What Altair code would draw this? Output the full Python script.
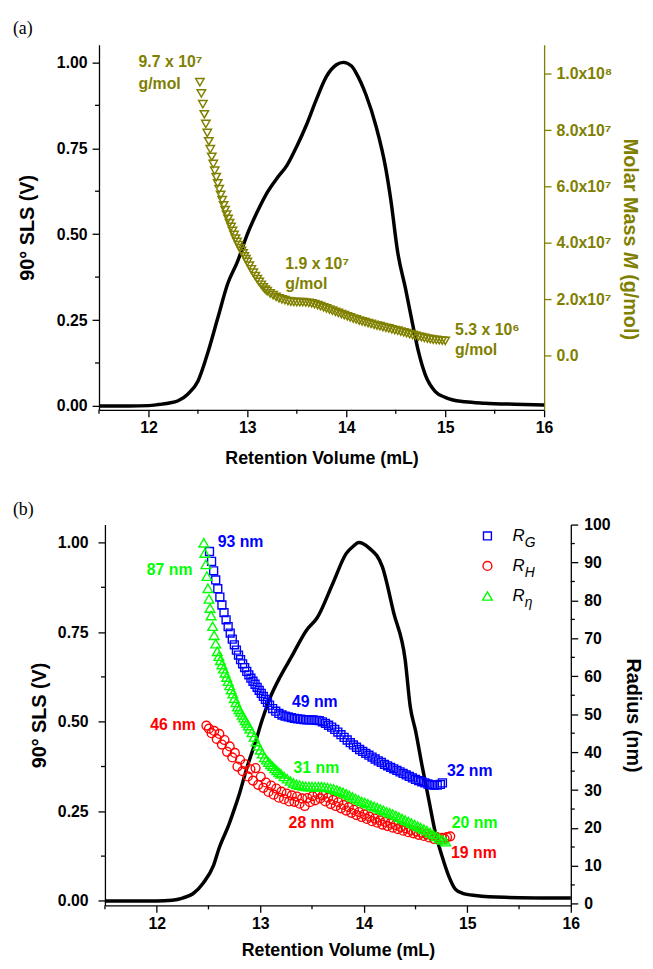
import altair as alt
import pandas as pd

FONT = "Liberation Sans"
SERIF = "Liberation Serif"
OLIVE = "#808000"
BLUE = "#0000FF"
RED = "#FF0000"
GREEN = "#00FF00"

# ---------------- axis tick values ----------------
x_ticks = [12, 13, 14, 15, 16]
x_minor = [11.5, 12.5, 13.5, 14.5, 15.5]
sls_ticks = [0.0, 0.25, 0.5, 0.75, 1.0]
sls_minor = [0.125, 0.375, 0.625, 0.875]
mm_ticks = [0, 20, 40, 60, 80, 100]          # molar mass, 10^6 g/mol
rad_ticks = [0, 10, 20, 30, 40, 50, 60, 70, 80, 90, 100]
rad_minor = [5, 15, 25, 35, 45, 55, 65, 75, 85, 95]

# ---------------- panel (a) data ----------------
sls_a_vol = [11.5, 11.8, 12.0, 12.1, 12.2, 12.3, 12.4, 12.5, 12.6, 12.7, 12.8, 12.9, 13.0,
             13.1, 13.2, 13.3, 13.4, 13.5, 13.6, 13.7, 13.8, 13.9, 13.97, 14.05, 14.1, 14.2,
             14.3, 14.4, 14.45, 14.52, 14.6, 14.68, 14.73, 14.8, 14.9, 15.0, 15.07, 15.2,
             15.4, 15.7, 16.0]
sls_a_sig = [0.0, 0.0, 0.001, 0.004, 0.008, 0.015, 0.035, 0.072, 0.155, 0.255, 0.355, 0.42,
             0.50, 0.565, 0.621, 0.663, 0.70, 0.756, 0.82, 0.894, 0.959, 0.993, 1.0, 0.99,
             0.969, 0.905, 0.815, 0.69, 0.60, 0.447, 0.34, 0.225, 0.158, 0.09, 0.042, 0.025,
             0.018, 0.012, 0.008, 0.005, 0.003]

mm_vol = [12.52, 12.535, 12.55, 12.565, 12.58, 12.595, 12.61, 12.625, 12.64, 12.655, 12.67,
          12.685, 12.70, 12.715, 12.73, 12.745, 12.76, 12.775, 12.79, 12.805, 12.82, 12.835,
          12.85, 12.865, 12.88, 12.895, 12.91, 12.925, 12.94, 12.955, 12.97, 12.985, 13.00,
          13.02, 13.04, 13.06, 13.08, 13.10, 13.12, 13.14, 13.16, 13.18, 13.20, 13.23, 13.26,
          13.29, 13.32, 13.35, 13.38, 13.41, 13.44, 13.47, 13.50, 13.53, 13.56, 13.59, 13.62,
          13.65, 13.68, 13.71, 13.74, 13.77, 13.80, 13.83, 13.86, 13.89, 13.92, 13.95, 13.98,
          14.01, 14.04, 14.07, 14.10, 14.13, 14.16, 14.19, 14.22, 14.25, 14.28, 14.31, 14.34,
          14.37, 14.40, 14.43, 14.46, 14.49, 14.52, 14.55, 14.58, 14.61, 14.64, 14.67, 14.70,
          14.73, 14.76, 14.79, 14.82, 14.85, 14.88, 14.91, 14.94, 14.97, 15.00]
mm_val = [97.0, 93.0, 89.2, 85.6, 82.2, 79.0, 76.0, 73.2, 70.5, 68.0, 65.6,
          63.3, 61.1, 59.0, 57.0, 55.1, 53.3, 51.6, 50.0, 48.5, 47.0, 45.6,
          44.2, 42.8, 41.5, 40.3, 39.2, 38.1, 37.1, 36.2, 35.2, 34.2, 33.2,
          31.9, 30.6, 29.4, 28.2, 27.1, 26.1, 25.1, 24.2, 23.4, 22.8, 22.0, 21.4,
          20.8, 20.3, 19.9, 19.6, 19.3, 19.1, 19.0, 18.9, 18.9, 18.9, 18.8, 18.7,
          18.5, 18.2, 17.9, 17.5, 17.1, 16.7, 16.3, 15.9, 15.5, 15.1, 14.7, 14.3,
          13.9, 13.5, 13.1, 12.8, 12.4, 12.1, 11.8, 11.5, 11.2, 10.9, 10.6, 10.4,
          10.1, 9.8, 9.6, 9.3, 9.0, 8.8, 8.5, 8.2, 7.9, 7.6, 7.3, 7.0,
          6.7, 6.5, 6.2, 6.0, 5.8, 5.6, 5.5, 5.4, 5.3, 5.2]

ann_a_vol = [11.9, 11.9, 13.383, 13.383, 15.1, 15.1]
ann_a_mm = [104.0, 96.3, 32.5, 25.4, 9.1, 2.0]
ann_a_txt = ["9.7 x 10\u2077", "g/mol", "1.9 x 10\u2077", "g/mol", "5.3 x 10\u2076", "g/mol"]

# ---------------- panel (b) data ----------------
sls_b_vol = [11.5, 12.0, 12.15, 12.25, 12.35, 12.45, 12.55, 12.6, 12.7, 12.75, 12.8, 12.876,
             12.95, 13.02, 13.1, 13.194, 13.3, 13.449, 13.55, 13.7, 13.83, 13.9, 13.95, 14.05,
             14.18, 14.29, 14.4, 14.45, 14.5, 14.564, 14.627, 14.691, 14.755, 14.82, 14.884,
             14.95, 15.08, 15.36, 16.0]
sls_b_sig = [0.0, 0.0, 0.002, 0.008, 0.02, 0.05, 0.10, 0.145, 0.215, 0.256, 0.30, 0.376,
             0.44, 0.506, 0.57, 0.626, 0.68, 0.756, 0.79, 0.885, 0.969, 0.99, 1.0, 0.985,
             0.932, 0.803, 0.673, 0.54, 0.475, 0.376, 0.284, 0.191, 0.126, 0.07, 0.033,
             0.022, 0.015, 0.01, 0.008]

rg_vol = [12.51, 12.53, 12.55, 12.57, 12.59, 12.61, 12.63, 12.65, 12.67, 12.69, 12.71, 12.73,
          12.75, 12.77, 12.79, 12.81, 12.83, 12.85, 12.87, 12.89, 12.91, 12.93, 12.95, 12.97,
          12.99, 13.01, 13.03, 13.05, 13.07, 13.09, 13.12, 13.15, 13.18, 13.21, 13.24, 13.27,
          13.30, 13.33, 13.36, 13.39, 13.42, 13.45, 13.48, 13.51, 13.54, 13.57, 13.60, 13.63,
          13.66, 13.69, 13.72, 13.75, 13.78, 13.81, 13.84, 13.87, 13.90, 13.93, 13.96, 13.99,
          14.02, 14.05, 14.08, 14.11, 14.14, 14.17, 14.20, 14.23, 14.26, 14.29, 14.32, 14.35,
          14.38, 14.41, 14.44, 14.47, 14.50, 14.53, 14.56, 14.59, 14.62, 14.65, 14.68, 14.71,
          14.74, 14.76]
rg_nm = [92.9, 90.3, 87.8, 85.4, 83.1, 80.9, 78.8, 76.8, 74.9, 73.1, 71.4, 69.8,
         68.3, 66.9, 65.6, 64.4, 63.3, 62.3, 61.3, 60.4, 59.5, 58.7, 57.9, 57.1,
         56.3, 55.5, 54.7, 53.9, 53.1, 52.4, 51.5, 50.8, 50.2, 49.8, 49.5, 49.3,
         49.1, 48.9, 48.8, 48.7, 48.6, 48.5, 48.5, 48.5, 48.4, 48.3, 48.0, 47.6,
         47.1, 46.6, 46.0, 45.3, 44.6, 43.9, 43.2, 42.5, 41.9, 41.3, 40.7, 40.2,
         39.7, 39.2, 38.7, 38.2, 37.7, 37.3, 36.8, 36.4, 36.0, 35.6, 35.2, 34.8,
         34.4, 34.0, 33.6, 33.2, 32.8, 32.5, 32.2, 31.9, 31.6, 31.4, 31.3, 31.3,
         31.5, 31.9]

rh_vol = [12.480, 12.505, 12.530, 12.555, 12.580, 12.605, 12.630, 12.655, 12.680, 12.705,
          12.730, 12.755, 12.780, 12.805, 12.830, 12.855, 12.880, 12.905, 12.930, 12.955,
          12.980, 13.005, 13.030, 13.055, 13.080, 13.105, 13.130, 13.155, 13.180, 13.205,
          13.230, 13.255, 13.280, 13.305, 13.330, 13.355, 13.380, 13.405, 13.430, 13.455,
          13.480, 13.505, 13.530, 13.555, 13.580, 13.605, 13.630, 13.655, 13.680, 13.705,
          13.730, 13.755, 13.780, 13.805, 13.830, 13.855, 13.880, 13.905, 13.930, 13.955,
          13.980, 14.005, 14.030, 14.055, 14.080, 14.105, 14.130, 14.155, 14.180, 14.205,
          14.230, 14.255, 14.280, 14.305, 14.330, 14.355, 14.380, 14.405, 14.430, 14.455,
          14.480, 14.505, 14.530, 14.555, 14.580, 14.605, 14.630, 14.655, 14.680, 14.705,
          14.730, 14.755, 14.780, 14.805, 14.835]
rh_nm = [47.0, 46.2, 45.0, 45.6, 43.5, 44.8, 42.0, 43.2, 40.1, 41.5,
         38.6, 39.8, 36.2, 38.0, 35.0, 36.8, 33.6, 35.5, 32.5, 35.8,
         31.4, 33.5, 30.6, 32.0, 29.5, 31.2, 28.8, 30.4, 28.0, 29.6,
         27.6, 29.1, 27.0, 28.6, 26.9, 28.3, 26.4, 27.8, 25.8, 27.9,
         26.8, 28.4, 27.3, 28.9, 27.8, 28.6, 27.0, 28.0, 26.3, 27.4,
         25.8, 26.8, 25.2, 26.1, 24.6, 25.5, 24.0, 24.8, 23.4, 24.2,
         22.9, 23.6, 22.4, 23.0, 21.8, 22.5, 21.4, 22.0, 20.9, 21.6,
         20.5, 21.2, 20.1, 20.8, 19.7, 20.3, 19.3, 19.9, 18.9, 19.5,
         18.6, 19.1, 18.2, 18.8, 17.9, 18.4, 17.5, 18.0, 17.1, 17.6,
         17.0, 17.4, 17.2, 17.6, 17.8]

eta_vol = [12.455, 12.465, 12.475, 12.485, 12.495, 12.505, 12.515, 12.525, 12.54, 12.555,
           12.57, 12.585, 12.60, 12.615, 12.63, 12.645, 12.66, 12.675, 12.69, 12.705, 12.72,
           12.735, 12.75, 12.765, 12.78, 12.795, 12.81, 12.825, 12.84, 12.855, 12.87, 12.885,
           12.90, 12.92, 12.94, 12.96, 12.98, 13.00, 13.02, 13.04, 13.06, 13.08, 13.10, 13.12,
           13.14, 13.16, 13.18, 13.20, 13.23, 13.26, 13.29, 13.32, 13.35, 13.38, 13.41, 13.44,
           13.47, 13.50, 13.53, 13.56, 13.59, 13.62, 13.65, 13.68, 13.71, 13.74, 13.77, 13.80,
           13.83, 13.86, 13.89, 13.92, 13.95, 13.98, 14.01, 14.04, 14.07, 14.10, 14.13, 14.16,
           14.19, 14.22, 14.25, 14.28, 14.31, 14.34, 14.37, 14.40, 14.43, 14.46, 14.49, 14.52,
           14.55, 14.58, 14.61, 14.64, 14.67, 14.70, 14.73, 14.76, 14.79]
eta_nm = [95.2, 92.5, 89.5, 86.4, 83.2, 80.4, 78.0, 76.0, 73.2, 70.8,
          68.6, 66.6, 65.3, 64.2, 63.1, 62.0, 60.9, 59.8, 58.7, 57.6, 56.5,
          55.4, 54.2, 53.1, 52.0, 51.3, 50.6, 49.8, 49.1, 48.4, 47.7, 47.0,
          46.2, 45.2, 44.0, 42.8, 41.7, 40.6, 39.6, 38.6, 38.0, 37.4, 36.8, 36.3,
          35.7, 35.2, 34.7, 34.3, 33.6, 33.0, 32.4, 31.9, 31.5, 31.3, 31.1, 31.0,
          30.9, 30.9, 30.9, 30.9, 30.9, 30.8, 30.7, 30.5, 30.3, 30.0, 29.7, 29.4,
          29.0, 28.6, 28.2, 27.8, 27.4, 27.0, 26.7, 26.4, 26.0, 25.7, 25.4, 25.0,
          24.7, 24.3, 24.0, 23.7, 23.3, 22.9, 22.5, 22.1, 21.7, 21.3, 20.9, 20.5,
          20.1, 19.7, 19.3, 18.8, 18.3, 17.8, 17.3, 16.9, 16.4]

SERIES = ["RG", "RH", "Reta"]
SUBS = ["G", "H", "\u03b7"]

ann_b_vol = [12.589, 11.904, 13.306, 11.937, 14.803, 13.322, 13.274, 14.85, 14.843]
ann_b_nm = [95.3, 88.0, 53.2, 47.1, 35.0, 35.9, 21.2, 21.4, 13.5]
ann_b_txt = ["93 nm", "87 nm", "49 nm", "46 nm", "32 nm", "31 nm", "28 nm", "20 nm", "19 nm"]
ann_b_ser = ["RG", "Reta", "RG", "RH", "RG", "Reta", "RH", "Reta", "RH"]

# ---------------- tables ----------------
df_sls_a = pd.DataFrame(list(zip(sls_a_vol, sls_a_sig)), columns=["vol", "sig"])
df_mm = pd.DataFrame(list(zip(mm_vol, mm_val)), columns=["vol", "mm"])
df_ann_a = pd.DataFrame(list(zip(ann_a_vol, ann_a_mm, ann_a_txt)), columns=["vol", "mm", "txt"])
df_sls_b = pd.DataFrame(list(zip(sls_b_vol, sls_b_sig)), columns=["vol", "sig"])
rows = []
for ser, xs, ys in [("RG", rg_vol, rg_nm), ("RH", rh_vol, rh_nm), ("Reta", eta_vol, eta_nm)]:
    rows += [(ser, a, b) for a, b in zip(xs, ys)]
df_rad = pd.DataFrame(rows, columns=["series", "vol", "nm"])
df_ann_b = pd.DataFrame(list(zip(ann_b_vol, ann_b_nm, ann_b_txt, ann_b_ser)),
                        columns=["vol", "nm", "txt", "series"])
df_leg = pd.DataFrame({"series": SERIES, "sub": SUBS, "r": ["R", "R", "R"]})

# ---------------- geometry ----------------
WA, HA = 444, 369
WB, HB = 471, 385
TICK = 7
MINOR = 4

col_scale = alt.Scale(domain=SERIES, range=[BLUE, RED, GREEN])
shp_scale = alt.Scale(domain=SERIES, range=["square", "circle", "triangle-up"])
siz_scale = alt.Scale(domain=SERIES, range=[64, 95, 100])

# ================= panel (a) =================
xa = alt.Scale(domain=[11.5, 16], range=[-6, WA], nice=False, zero=False)
ya_l = alt.Scale(domain=[-0.0113, 1.051], nice=False, zero=False)
ya_r = alt.Scale(domain=[-19.3, 110.25], nice=False, zero=False)

x_axis_a = alt.Axis(title="Retention Volume (mL)", values=x_ticks, format="d", tickSize=TICK,
                    labelPadding=3, titlePadding=14, titleFontSize=18)
yl_axis_a = alt.Axis(title="90\u00b0 SLS (V)", orient="left", offset=6, values=sls_ticks,
                     format=".2f", tickSize=TICK, labelPadding=5, titlePadding=19,
                     titleFontSize=20)
mm_label_expr = ("datum.value == 0 ? '0.0' : (datum.value >= 100 ? "
                 "format(datum.value / 100, '.1f') + 'x10\u2078' : "
                 "format(datum.value / 10, '.1f') + 'x10\u2077')")
yr_axis_a = alt.Axis(title=None, orient="right", values=mm_ticks, labelExpr=mm_label_expr,
                     tickSize=TICK, labelPadding=5, domainColor=OLIVE, tickColor=OLIVE,
                     labelColor=OLIVE)

XA = alt.X("vol:Q", scale=xa, axis=x_axis_a)

line_a = alt.Chart(df_sls_a).mark_line(color="black", strokeWidth=3.5, interpolate="monotone").encode(
    x=XA,
    y=alt.Y("sig:Q", scale=ya_l, axis=yl_axis_a),
)
pts_a = alt.Chart(df_mm).mark_point(shape="triangle-down", size=72, filled=False, color=OLIVE,
                                    strokeWidth=1.5, opacity=1).encode(
    x=XA,
    y=alt.Y("mm:Q", scale=ya_r, axis=yr_axis_a),
)
ann_a = alt.Chart(df_ann_a).mark_text(align="left", baseline="middle", font=FONT, fontWeight="bold",
                                      fontSize=16, color=OLIVE).encode(
    x=XA,
    y=alt.Y("mm:Q", scale=ya_r, axis=None),
    text="txt:N",
)
minor_x_a = alt.Chart(pd.DataFrame({"vol": x_minor})).mark_rule(color="black", strokeWidth=1.3).encode(
    x=XA, y=alt.value(HA), y2=alt.value(HA + MINOR))
minor_y_a = alt.Chart(pd.DataFrame({"v": sls_minor})).mark_rule(color="black", strokeWidth=1.3).encode(
    y=alt.Y("v:Q", scale=ya_l, axis=None), x=alt.value(-6), x2=alt.value(-6 - MINOR))
label_a = alt.Chart(pd.DataFrame({"t": ["(a)"]})).mark_text(
    align="left", baseline="middle", font=SERIF, fontSize=18, color="black").encode(
    x=alt.value(-93), y=alt.value(-16), text="t:N")

ttl_style = dict(angle=90, align="left", baseline="middle", font=FONT, fontSize=20,
                 fontWeight="bold", color=OLIVE)
ttl1 = alt.Chart(pd.DataFrame({"t": ["Molar Mass "]})).mark_text(**ttl_style).encode(
    x=alt.value(531), y=alt.value(95), text="t:N")
ttl2 = alt.Chart(pd.DataFrame({"t": ["M"]})).mark_text(fontStyle="italic", **ttl_style).encode(
    x=alt.value(531), y=alt.value(209.5), text="t:N")
ttl3 = alt.Chart(pd.DataFrame({"t": ["(g/mol)"]})).mark_text(**ttl_style).encode(
    x=alt.value(531), y=alt.value(231.8), text="t:N")

panel_a = alt.layer(line_a, pts_a, ann_a, minor_x_a, minor_y_a, label_a, ttl1, ttl2, ttl3).resolve_scale(
    y="independent").properties(width=WA, height=HA)

# ================= panel (b) =================
xb = alt.Scale(domain=[11.5, 16], nice=False, zero=False)
yb_l = alt.Scale(domain=[-0.0125, 1.05], nice=False, zero=False)
yb_r = alt.Scale(domain=[-0.4, 100], nice=False, zero=False)
leg_y = alt.Scale(type="point", domain=SERIES, range=[11.5, 72.2], padding=0)

x_axis_b = alt.Axis(title="Retention Volume (mL)", values=x_ticks, format="d", tickSize=TICK,
                    labelPadding=3, titlePadding=11, titleFontSize=18)
yl_axis_b = alt.Axis(title="90\u00b0 SLS (V)", orient="left", values=sls_ticks, format=".2f",
                     tickSize=TICK, labelPadding=10, titlePadding=8, titleFontSize=20)
yr_axis_b = alt.Axis(title="Radius (nm)", orient="right", values=rad_ticks, format="d",
                     tickSize=TICK, labelPadding=6, titlePadding=13, titleFontSize=20)

XB = alt.X("vol:Q", scale=xb, axis=x_axis_b)

line_b = alt.Chart(df_sls_b).mark_line(color="black", strokeWidth=3.5, interpolate="monotone").encode(
    x=XB,
    y=alt.Y("sig:Q", scale=yb_l, axis=yl_axis_b),
)
pts_b = alt.Chart(df_rad).mark_point(filled=False, strokeWidth=1.4, opacity=1).encode(
    x=XB,
    y=alt.Y("nm:Q", scale=yb_r, axis=yr_axis_b),
    color=alt.Color("series:N", scale=col_scale, legend=None),
    shape=alt.Shape("series:N", scale=shp_scale, legend=None),
    size=alt.Size("series:N", scale=siz_scale, legend=None),
)
ann_b = alt.Chart(df_ann_b).mark_text(align="left", baseline="middle", font=FONT, fontWeight="bold",
                                      fontSize=16).encode(
    x=XB,
    y=alt.Y("nm:Q", scale=yb_r, axis=None),
    color=alt.Color("series:N", scale=col_scale, legend=None),
    text="txt:N",
)
leg_pts = alt.Chart(df_leg).mark_point(filled=False, strokeWidth=1.4, opacity=1).encode(
    x=alt.value(386.7),
    y=alt.Y("series:N", scale=leg_y, axis=None),
    color=alt.Color("series:N", scale=col_scale, legend=None),
    shape=alt.Shape("series:N", scale=shp_scale, legend=None),
    size=alt.Size("series:N", scale=siz_scale, legend=None),
)
leg_r = alt.Chart(df_leg).mark_text(align="left", baseline="middle", font=FONT, fontSize=17,
                                    fontStyle="italic", color="black").encode(
    x=alt.value(412), y=alt.Y("series:N", scale=leg_y, axis=None), text="r:N")
leg_sub = alt.Chart(df_leg).mark_text(align="left", baseline="middle", font=FONT, fontSize=14,
                                      fontStyle="italic", color="black", dx=12.5, dy=7).encode(
    x=alt.value(412), y=alt.Y("series:N", scale=leg_y, axis=None), text="sub:N")

minor_x_b = alt.Chart(pd.DataFrame({"vol": x_minor})).mark_rule(color="black", strokeWidth=1.3).encode(
    x=XB, y=alt.value(HB), y2=alt.value(HB + MINOR))
minor_yl_b = alt.Chart(pd.DataFrame({"v": sls_minor})).mark_rule(color="black", strokeWidth=1.3).encode(
    y=alt.Y("v:Q", scale=yb_l, axis=None), x=alt.value(0), x2=alt.value(-MINOR))
minor_yr_b = alt.Chart(pd.DataFrame({"v": rad_minor})).mark_rule(color="black", strokeWidth=1.3).encode(
    y=alt.Y("v:Q", scale=yb_r, axis=None), x=alt.value(WB), x2=alt.value(WB + MINOR))
label_b = alt.Chart(pd.DataFrame({"t": ["(b)"]})).mark_text(
    align="left", baseline="middle", font=SERIF, fontSize=18, color="black").encode(
    x=alt.value(-93), y=alt.value(-15), text="t:N")

panel_b = alt.layer(line_b, pts_b, ann_b, leg_pts, leg_r, leg_sub, minor_x_b, minor_yl_b,
                    minor_yr_b, label_b).resolve_scale(y="independent").properties(width=WB, height=HB)

chart = alt.vconcat(panel_a, panel_b, spacing=34).properties(
    padding={"left": 5, "top": 7, "right": 2, "bottom": 0}
).configure(font=FONT).configure_view(stroke=None).configure_axis(
    labelFont=FONT, titleFont=FONT, labelFontWeight="bold", titleFontWeight="bold",
    labelFontSize=16, labelColor="black", titleColor="black", grid=False,
    domainColor="black", tickColor="black", domainWidth=1.3, tickWidth=1.3,
    labelFlush=False, labelOverlap=False,
)

chart.save("out.html", embed_options={"renderer": "svg", "actions": False})
